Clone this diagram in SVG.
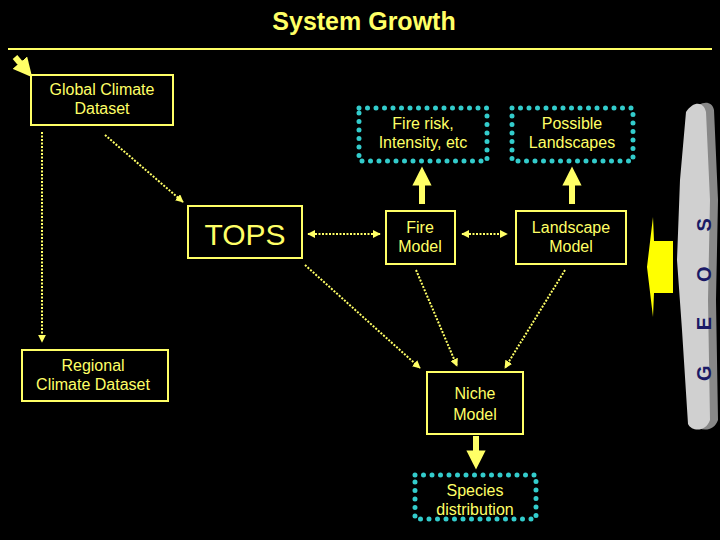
<svg xmlns="http://www.w3.org/2000/svg" width="720" height="540" viewBox="0 0 720 540">
<style>
text{font-family:"Liberation Sans",Arial,sans-serif;fill:#ffff66;text-anchor:middle}
.b{fill:none;stroke:#ffff66;stroke-width:2}
.c{fill:none;stroke:#33cccc;stroke-width:5;stroke-linecap:round;stroke-dasharray:0 8.5}
.d{stroke:#ffff66;stroke-width:2;stroke-dasharray:2 1.5;fill:none}
.t{stroke:#ffff66;stroke-width:6;fill:none}
</style>
<defs>
<marker id="a" viewBox="0 0 10 10" refX="9" refY="5" markerWidth="4" markerHeight="4" orient="auto-start-reverse"><path d="M0,0L10,5L0,10z" fill="#ffff66"/></marker>
<marker id="T" viewBox="0 0 10 10" refX="5" refY="5" markerWidth="3.2" markerHeight="3.2" orient="auto"><path d="M0,0L10,5L0,10z" fill="#ffff66"/></marker>
</defs>
<rect width="720" height="540" fill="#000"/>
<text x="364" y="30" font-size="25" font-weight="bold">System Growth</text>
<line x1="8" y1="49" x2="712" y2="49" stroke="#ffff66" stroke-width="2"/>
<g id="cloud">
<path d="M692,112 C700,100 712,100 714,110 L718,200 L716,300 L718,420 C714,432 700,432 694,424 L688,330 L683,260 L686,180 Z" fill="#888"/>
<path d="M686,112 C694,100 704,102 706,112 L710,200 L708,300 L710,420 C706,432 692,432 688,424 L682,330 L677,260 L680,180 Z" fill="#d0d0d0"/>
<text transform="translate(711,282) rotate(-90)" font-size="20" font-weight="bold" style="fill:#1a1a66;letter-spacing:35px">GEOS</text>
</g>
<g id="connectors">
<path d="M15,57L26,70" class="t" marker-end="url(#T)" stroke-width="3.5"/>
<path d="M42,132L42,342" class="d" marker-end="url(#a)"/>
<path d="M105,135L183,202" class="d" marker-end="url(#a)"/>
<path d="M308,234L380,234" class="d" marker-start="url(#a)" marker-end="url(#a)"/>
<path d="M462,234L507,234" class="d" marker-start="url(#a)" marker-end="url(#a)"/>
<path d="M305,265L420,368" class="d" marker-end="url(#a)"/>
<path d="M416,270L457,366" class="d" marker-end="url(#a)"/>
<path d="M565,270L505,368" class="d" marker-end="url(#a)"/>
<path d="M422,204L422,176" class="t" marker-end="url(#T)"/>
<path d="M572,204L572,176" class="t" marker-end="url(#T)"/>
<path d="M476,436L476,460" class="t" marker-end="url(#T)"/>
<polygon points="653,217 654,241 673,241 673,293 654,293 653,317 647,267" fill="#ffff00"/>
</g>
<g id="global"><rect x="31" y="75" width="142" height="50" class="b"/><text x="102" y="95" font-size="16">Global Climate</text><text x="102" y="114" font-size="16">Dataset</text></g>
<g id="firerisk"><rect x="359" y="108" width="128" height="53" class="c"/><text x="423" y="129" font-size="16">Fire risk,</text><text x="423" y="148" font-size="16">Intensity, etc</text></g>
<g id="possible"><rect x="512" y="108" width="121" height="53" class="c"/><text x="572" y="129" font-size="16">Possible</text><text x="572" y="148" font-size="16">Landscapes</text></g>
<g id="tops"><rect x="188" y="206" width="114" height="52" class="b"/><text x="245" y="245" font-size="30">TOPS</text></g>
<g id="fire"><rect x="386" y="211" width="69" height="53" class="b"/><text x="420" y="233" font-size="16">Fire</text><text x="420" y="252" font-size="16">Model</text></g>
<g id="landscape"><rect x="516" y="211" width="110" height="53" class="b"/><text x="571" y="233" font-size="16">Landscape</text><text x="571" y="252" font-size="16">Model</text></g>
<g id="regional"><rect x="22" y="350" width="146" height="51" class="b"/><text x="93" y="371" font-size="16">Regional</text><text x="93" y="390" font-size="16">Climate Dataset</text></g>
<g id="niche"><rect x="427" y="372" width="96" height="62" class="b"/><text x="475" y="399" font-size="16">Niche</text><text x="475" y="420" font-size="16">Model</text></g>
<g id="species"><rect x="415" y="475" width="121" height="44" class="c"/><text x="475" y="496" font-size="16">Species</text><text x="475" y="515" font-size="16">distribution</text></g>
</svg>
